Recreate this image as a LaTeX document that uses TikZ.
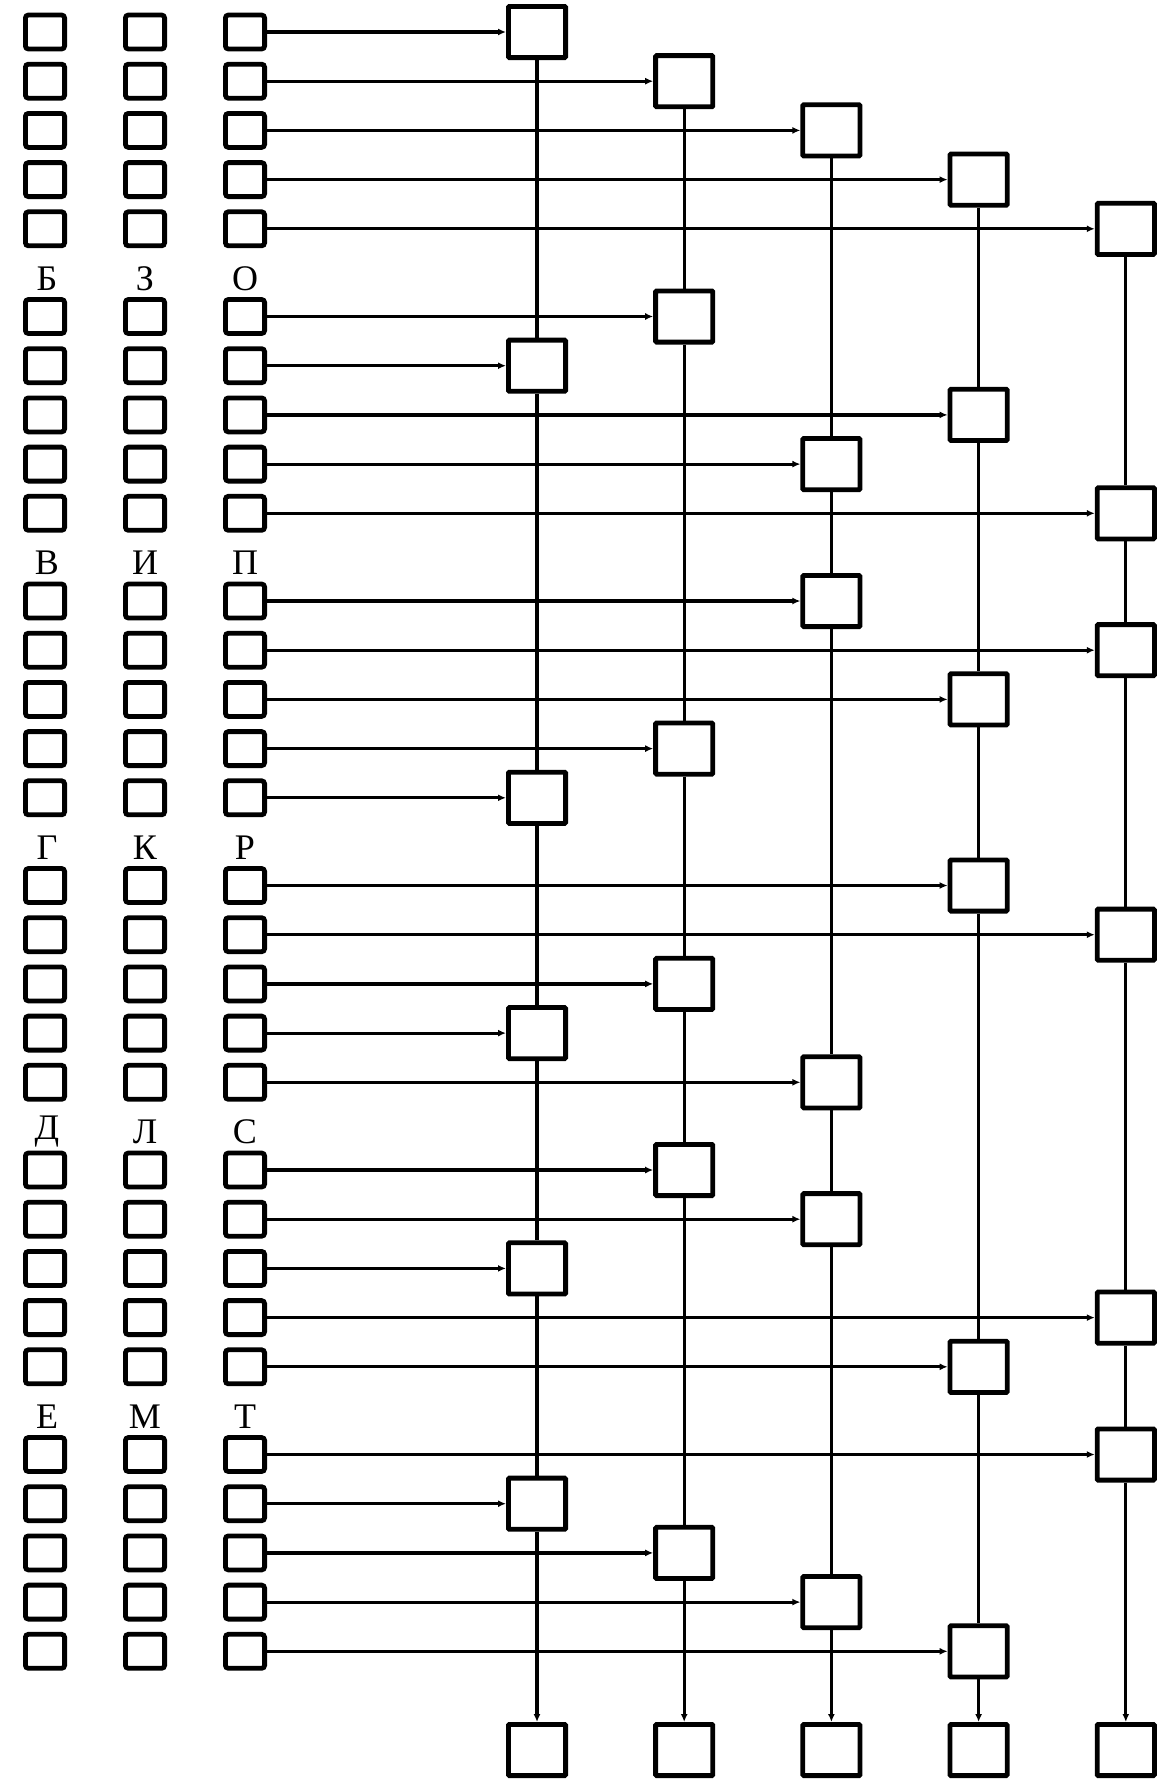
\documentclass[tikz,border=0pt]{standalone}
\usepackage{fontspec}
\setmainfont{Liberation Serif}
\usetikzlibrary{arrows.meta}
\begin{document}
\begin{tikzpicture}[x=0.5pt,y=-0.5pt,
  sbox/.style={draw, line width=2.4pt, minimum width=19.6pt, minimum height=17pt, inner sep=0pt, rounded corners=1.5pt},
  bbox/.style={draw, line width=2.4pt, minimum width=28.6pt, minimum height=25.6pt, inner sep=0pt, rounded corners=0.5pt},
  hconn/.style={line width=1.6pt, -{Latex[length=4pt,width=3.5pt]}},
  vconn/.style={line width=1.6pt},
  vend/.style={line width=1.6pt, -{Latex[length=4pt,width=3.5pt]}},
  lbl/.style={font=\fontsize{18}{20}\selectfont, inner sep=0pt}]
\useasboundingbox (0,0) rectangle (1169,1783);
% rows of small boxes and big boxes
\foreach \c [count=\n from 0] in {1,2,3,4,5, 2,1,4,3,5, 3,5,4,2,1, 4,5,2,1,3, 2,3,1,5,4, 5,1,2,3,4} {
  \pgfmathtruncatemacro{\g}{floor(\n/5)}
  \pgfmathtruncatemacro{\r}{\n-5*\g}
  \pgfmathsetmacro{\yy}{32+284.5*\g+49.2*\r}
  \pgfmathsetmacro{\xx}{537+147.2*(\c-1)}
  \node[sbox] (a\n) at (45,\yy) {};
  \node[sbox] (z\n) at (145,\yy) {};
  \node[sbox] (o\n) at (245,\yy) {};
  \node[bbox] (b\c-\g) at (\xx,\yy) {};
  \draw[hconn] (o\n.east) -- (b\c-\g.west);
}
% group labels
\foreach \g/\la/\lb/\lc in {1/Б/З/О, 2/В/И/П, 3/Г/К/Р, 4/Д/Л/С, 5/Е/М/Т} {
  \pgfmathsetmacro{\ly}{32+284.5*\g-38}
  \node[lbl] (la\g) at (47,\ly) {\la};
  \node[lbl] (lb\g) at (145,\ly) {\lb};
  \node[lbl] (lc\g) at (245,\ly) {\lc};
}
% bottom boxes and vertical chains
\foreach \c in {1,...,5} {
  \pgfmathsetmacro{\xx}{537+147.2*(\c-1)}
  \node[bbox] (e\c) at (\xx,1750) {};
  \foreach \g [evaluate=\g as \h using int(\g+1)] in {0,...,4} {
    \draw[vconn] (b\c-\g.south) -- (b\c-\h.north);
  }
  \draw[vend] (b\c-5.south) -- (e\c.north);
}
\end{tikzpicture}
\end{document}
